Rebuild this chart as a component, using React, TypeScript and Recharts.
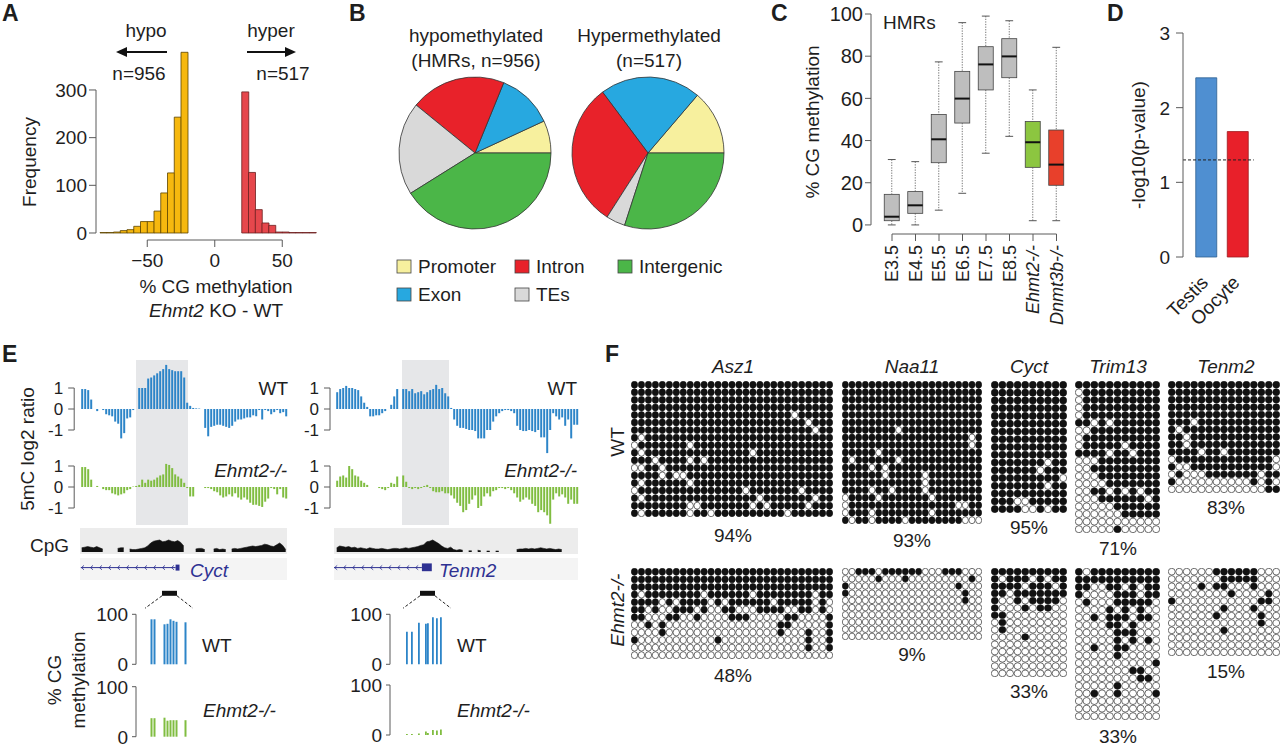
import React from 'react';
import {
  BarChart, Bar, XAxis, YAxis, Cell, PieChart, Pie, AreaChart, Area,
  ScatterChart, Scatter, ReferenceLine, ReferenceArea, ReferenceDot,
} from 'recharts';

const FONT = '"Liberation Sans", Arial, Helvetica, sans-serif';
const INK = '#1e1e1e';
const AXIS = '#5a5a5a';
const GENE_BLUE = '#2e3192';

// ---------- A: distribution of methylation differences (KO - WT) ----------
const histBinStarts = [-85, -80, -75, -70, -65, -60, -55, -50, -45, -40, -35, -30, -25, -20, -15, -10, -5, 0, 5, 10, 15, 20, 25, 30, 35, 40, 45, 50, 55, 60, 65, 70];
const hypoCounts = [1, 1, 2, 5, 7, 14, 24, 24, 46, 84, 126, 243, 379]; // bins -85 ... -25
const hyperCounts = [296, 127, 49, 21, 16, 2, 2, 1, 1, 1, 1]; // bins 20 ... 70
const histTickValues = [-50, 0, 50];
const HYPO_FILL = '#f6b80f';
const HYPER_FILL = '#e6474c';

// ---------- B: genomic context of differentially methylated regions ----------
const regionTypes = ['Promoter', 'Exon', 'Intron', 'TEs', 'Intergenic'];
const regionColors = ['#f7f09e', '#27a8e0', '#e8222a', '#d9d9d9', '#4bb648'];
const hypoRegionCounts = [66, 114, 194, 189, 393];
const hyperRegionCounts = [71, 111, 159, 21, 155];

// ---------- C: HMR methylation across development ----------
const stageNames = ['E3.5', 'E4.5', 'E5.5', 'E6.5', 'E7.5', 'E8.5', 'Ehmt2-/-', 'Dnmt3b-/-'];
const boxLow = [0, 0, 7, 15, 34, 42, 2, 2];
const boxQ1 = [2, 5.5, 29.5, 48.3, 64, 69.8, 27.3, 18.8];
const boxMedian = [3.9, 9.3, 40.6, 59.9, 76.1, 79.9, 39.2, 28.6];
const boxQ3 = [14.5, 15.8, 52.4, 72.8, 84.5, 88.3, 49, 45];
const boxHigh = [31, 30, 77.3, 95.9, 99, 96.8, 64, 84.2];
const boxFills = ['#bebebe', '#bebebe', '#bebebe', '#bebebe', '#bebebe', '#bebebe', '#8cc640', '#e8402b'];

// ---------- D: tissue enrichment ----------
const tissues = ['Testis', 'Oocyte'];
const tissueScores = [2.4, 1.68];
const tissueFills = ['#4f8fd1', '#e8202a'];
const tissueStrokes = ['#2d5f91', '#9e1b20'];
const pThreshold = 1.3;

// ---------- E: 5mC log2 ratio tracks ----------
const cyctWtRatio = [0.95, 0.95, 0.9, 0.45, null, -0.1, null, -0.05, -0.25, -0.3, -0.35, -0.6, -0.7, -1.4, -1.15, -0.45, -0.4, -0.05, null, 1.0, 1.0, 1.0, 1.45, 1.5, 1.6, 1.7, 1.8, 1.9, 2.1, 1.9, 1.85, 1.8, 1.8, 1.8, 1.5, 0.3, 0.15, 0.05, 0.03, 0.02, null, -0.9, -1.3, -0.85, -0.8, -0.75, -0.75, -0.8, -0.85, -0.9, -0.8, -0.6, -0.5, -0.5, -0.45, -0.4, -0.4, -0.3, -0.35, -0.05, -0.5, -0.05, -0.1, -0.25, -0.15, -0.05, -0.2, -0.15, -0.35];
const cyctKoRatio = [0.95, 0.95, 0.85, 0.35, null, 0.05, null, -0.1, -0.15, -0.15, -0.3, -0.35, -0.4, -0.35, -0.3, -0.15, -0.1, 0.02, 0.05, 0.1, 0.35, 0.2, 0.35, 0.3, 0.35, 0.45, 0.55, 0.6, 1.1, 1.05, 0.9, 0.6, 0.5, 0.4, 0.2, -0.05, -0.45, -0.45, null, null, null, -0.05, -0.05, -0.1, -0.2, -0.25, -0.4, -0.5, -0.45, -0.35, -0.45, -0.3, -0.5, -0.6, -0.5, -0.6, -0.75, -0.85, -0.85, -0.9, -0.95, -0.7, -0.55, -0.05, -0.1, -0.35, -0.1, -0.5, -0.55];
const tenm2WtRatio = [0.8, 0.95, 1.0, 1.1, 1.0, 1.0, 0.95, 0.9, 0.6, 0.3, 0.1, -0.35, -0.35, -0.3, -0.3, -0.2, -0.1, null, 0.2, 0.6, 0.95, null, 0.95, 0.95, 0.85, 0.95, 0.75, 0.8, 0.85, 0.7, 0.8, 0.9, 0.95, 1.15, 0.95, 1.0, 0.75, 0.6, 0.05, -0.5, -0.8, -0.9, -0.9, -0.95, -1.0, -1.0, -1.05, -1.4, -1.4, -1.4, -1.0, -1.0, -0.6, -0.35, -0.2, -0.1, -0.05, -0.05, -0.1, -0.2, -0.8, -1.0, -1.05, -1.05, -1.0, -1.05, -1.1, -1.0, -1.35, -1.35, -2.1, -1.0, -0.2, -0.35, -0.5, -0.4, -0.8, -0.5, -1.4, -0.75, -0.75];
const tenm2KoRatio = [0.3, 0.5, 0.55, 0.45, 1.0, 0.85, 0.55, 0.5, 0.3, 0.2, 0.1, null, null, null, -0.05, -0.1, -0.15, -0.05, 0.2, 0.15, 0.5, null, 0.55, 0.25, -0.05, -0.1, -0.05, -0.1, -0.05, 0.05, 0.1, -0.05, -0.2, -0.25, -0.25, -0.2, -0.3, -0.3, -0.4, -0.55, -0.75, -0.9, -1.2, -1.1, -0.8, -0.6, -0.4, -1.0, -0.9, -0.45, -0.3, -0.45, -0.2, -0.15, -0.05, -0.05, -0.1, -0.05, -0.15, -0.3, -0.5, -0.7, -0.6, -0.5, -0.6, -0.8, -0.9, -1.2, -1.1, -1.2, -1.35, -1.75, -0.6, -0.3, -0.45, -0.35, -0.5, -0.8, -0.6, -0.8, -0.8];
const cyctCpgDensity = [0.35, 0.4, 0.45, 0.4, 0.35, 0.45, 0.35, 0.25, null, null, null, null, 0.3, 0.35, 0.35, null, 0.25, 0.2, 0.2, 0.25, 0.3, 0.35, 0.5, 0.75, 0.9, 0.95, 1.0, 0.85, 0.9, 1.0, 0.9, 0.85, 0.95, 0.8, 0.5, null, null, null, 0.25, 0.3, 0.3, 0.2, null, null, 0.25, 0.3, 0.2, 0.25, 0.2, null, 0.25, 0.3, 0.25, 0.3, 0.35, 0.4, 0.45, 0.5, 0.45, 0.5, 0.55, 0.65, 0.6, 0.5, 0.45, 0.6, 0.75, 0.55, 0.2];
const tenm2CpgDensity = [0.35, 0.5, 0.45, 0.4, 0.45, 0.35, 0.4, 0.3, 0.35, 0.3, 0.25, 0.35, 0.3, 0.25, 0.25, 0.3, 0.25, 0.2, 0.25, 0.3, 0.3, 0.25, 0.3, 0.35, 0.3, 0.35, 0.4, 0.45, 0.55, 0.6, 0.85, 0.9, 1.0, 0.85, 0.7, 0.5, 0.35, 0.3, 0.4, 0.2, 0.15, 0.2, 0.15, null, 0.1, 0.1, null, 0.15, 0.1, null, 0.08, 0.08, null, 0.08, 0.08, null, null, 0.1, null, null, 0.2, 0.25, 0.25, 0.3, 0.25, 0.3, 0.25, 0.3, 0.35, 0.3, 0.25, 0.3, 0.25, 0.2, 0.25, 0.2, null, 0.1, null, null, 0.15];
const cyctGene = { txStart: -0.3, txEnd: 31.3, exonStart: 31.3, exonEnd: 32.6, exonLow: -1.55, exonHigh: -1.05 };
const tenm2Gene = { txStart: -0.9, txEnd: 28.4, exonStart: 28.4, exonEnd: 31.7, exonLow: -1.6, exonHigh: -0.95 };
const geneLineLevel = -1.3;

// CpG-resolution methylation (%) in the amplicon
const cyctCpgPos = [15, 18, 28, 31, 34, 37, 40, 49];
const cyctWtMeth = [90, 90, 80, 81, 90, 87, 85, 84];
const cyctKoMeth = [37, 37, 38, 32, 33, 33, 33, 33];
const tenm2CpgPos = [17, 22, 29, 36, 38, 43, 47, 51];
const tenm2WtMeth = [65, 65, 83, 81, 82, 94, 92, 94];
const tenm2KoMeth = [2, 2, 3, 7, 4, 10, 9, 11];
const cyctAmplicon = [26, 41];
const tenm2Amplicon = [30, 45];

// ---------- F: bisulfite clones (1 = methylated CpG) ----------
const asz1WT = [
  '11111111111111111111111111111',
  '11111111111111111111111111111',
  '11111111111111111111111111111',
  '11111111111111111111111111111',
  '11111111111111111111111011111',
  '11111111111111111111111110111',
  '11111111111111111111111111011',
  '10111111111111111111111111111',
  '01111111011111111111111111111',
  '10111111111111111011111111111',
  '11101111010111111111111111111',
  '00110111111111111111111111111',
  '11110100111111111111111111111',
  '10111111011111111111111111111',
  '01111111111111110111111101111',
  '10111111111111111101111111011',
  '11111111001111111010111110111',
  '10111111011011111111110111111',
];
const asz1KO = [
  '11111111111111111111111111111',
  '11111111111111111111111111111',
  '11111111111111111111111111111',
  '10111111110111111011111111011',
  '11110101111010111111011111010',
  '11010011101001100011110011010',
  '11000110010000111000001100001',
  '00101000000000000000011000001',
  '00001000000000000000010001001',
  '10000000000010000000000001001',
  '00000000000000000000000001001',
  '00000000000000000000000000000',
];
const naa11WT = [
  '111111111111111111111',
  '111111111111111111111',
  '111111111111111111111',
  '111111111111111111111',
  '111111111111111111111',
  '111111111111111111111',
  '111111110111111111111',
  '111111111111111111101',
  '111111111111111111101',
  '111110111111111111111',
  '101111110111111111111',
  '111101011111111111111',
  '111111011111011111111',
  '111111111111011111111',
  '111101101111011111111',
  '011110111111101111111',
  '011111111111111110011',
  '011101111111101111111',
  '101101111011111111000',
];
const naa11KO = [
  '001110111111000111000',
  '000001000100000000010',
  '100000000000000001000',
  '100000000000000000100',
  '000000000000000000100',
  '000000000000000000000',
  '000000000000000000000',
  '000000000000000000000',
  '000000000000000000000',
  '000000000000000000000',
];
const cyctWT = [
  '1111111111', '1111111111', '1111111111', '1111111111', '1111111111',
  '1111111111', '1111111111', '1111111111', '1111111111', '1111111111',
  '1111111011', '1111110111', '1111111110', '1111111011', '1111111111',
  '1110011111', '1111001011',
];
const cyctKO = [
  '1111111111', '1011101011', '1111011101', '1101111111', '1001011110',
  '1000101100', '1100000000', '0100000000', '0100000000', '0000100000',
  '0000000000', '0000000000', '0000000000', '0000000000', '0000000000',
];
const trim13WT = [
  '11111111111', '01111111111', '01111111111', '01111111111', '01111111111',
  '11010111111', '00111111111', '01111111111', '01111101111', '11110110111',
  '00011111111', '00111111111', '00011111111', '00001111111', '00110101011',
  '00011111101', '00000111111', '00000011111', '00000000000', '00000100000',
];
const trim13KO = [
  '10111111111', '11111111111', '11001101011', '10000111011', '01000111110',
  '00001010100', '00101110110', '00001101000', '00000111000', '00000101010',
  '00100110000', '00000100000', '00000000001', '00000001100', '00000000110',
  '00000100000', '00100100001', '00000000000', '00000000000', '00000000000',
];
const tenm2WT = [
  '111111111111111', '111111111111111', '111111111111111', '111111111111111', '111111111111111',
  '111011111111111', '101111111111111', '110111111111111', '110111111111111', '111101101111111',
  '011111111111110', '100111111111110', '010001111111011', '100000000001010', '000000000000011',
];
const tenm2KO = [
  '000000111111000', '000000011111000', '000010110001000', '000000001000010', '100000000000110',
  '000000010001000', '000000100000100', '000000000000100', '000000010000000', '000000000000000',
  '000000000000000', '000000000000000',
];
const bisulfiteGenes = ['Asz1', 'Naa11', 'Cyct', 'Trim13', 'Tenm2'];
const wtClones = [asz1WT, naa11WT, cyctWT, trim13WT, tenm2WT];
const koClones = [asz1KO, naa11KO, cyctKO, trim13KO, tenm2KO];
const wtPercent = ['94%', '93%', '95%', '71%', '83%'];
const koPercent = ['48%', '9%', '33%', '33%', '15%'];

// block geometry of each bisulfite panel
const blockX = [631, 842, 991, 1075, 1168];
const blockW = [202, 140, 76, 85, 112];
const wtBlockH = [136, 143, 132, 152, 112];
const koBlockH = [91, 72, 109, 152, 88];
const WT_TOP = 381;
const KO_TOP = 568;
const geneLabelX = [733, 912, 1029, 1118, 1226];
const wtPctY = [542, 547, 534, 555, 514];
const koPctY = [682, 661, 698, 743, 678];

// ---------- shared pieces ----------
type TickCfg = {
  side: 'left' | 'bottom';
  anchor?: number | string;
  span?: number;
  len?: number;
  gap?: number;
  size?: number;
  rotate?: number;
  shiftX?: number;
  offsetX?: number;
  only?: any[];
  italicIf?: (v: any) => boolean;
  fmt?: (v: any) => string;
};

function axisTick(cfg: TickCfg) {
  return (props: any) => {
    const { y, payload } = props;
    const x = props.x + (cfg.offsetX ?? 0);
    const v = payload?.value;
    if (cfg.only && !cfg.only.includes(v)) return <g />;
    const len = cfg.len ?? 7;
    const gap = cfg.gap ?? 3;
    const size = cfg.size ?? 19;
    const label = cfg.fmt ? cfg.fmt(v) : String(v);
    const italic = cfg.italicIf ? cfg.italicIf(v) : false;
    const txt = { fontSize: size, fill: INK, fontFamily: FONT, fontStyle: italic ? 'italic' : 'normal' } as any;
    if (cfg.side === 'left') {
      return (
        <g>
          {cfg.anchor === v && cfg.span ? <line x1={x} y1={y} x2={x} y2={y - cfg.span} stroke={AXIS} /> : null}
          {len > 0 ? <line x1={x - len} y1={y} x2={x} y2={y} stroke={AXIS} /> : null}
          <text x={x - len - gap} y={y} dy="0.36em" textAnchor="end" {...txt}>{label}</text>
        </g>
      );
    }
    const ty = y + len + gap;
    return (
      <g>
        {cfg.anchor === v && cfg.span ? <line x1={x} y1={y} x2={x + cfg.span} y2={y} stroke={AXIS} /> : null}
        {len > 0 ? <line x1={x} y1={y} x2={x} y2={y + len} stroke={AXIS} /> : null}
        {cfg.rotate ? (
          <text transform={`translate(${x + (cfg.shiftX ?? 0)},${ty}) rotate(${cfg.rotate})`} dy="0.36em" textAnchor="end" {...txt}>{label}</text>
        ) : (
          <text x={x} y={ty} dy="0.78em" textAnchor="middle" {...txt}>{label}</text>
        )}
      </g>
    );
  };
}

const At = ({ x, y, children }: any) => (
  <div style={{ position: 'absolute', left: x, top: y }}>{children}</div>
);

const T = ({ x, y, children, anchor = 'start', size = 19, italic = false, bold = false, fill = INK, rotate }: any) => (
  <text
    x={x}
    y={y}
    textAnchor={anchor}
    fontSize={size}
    fontStyle={italic ? 'italic' : 'normal'}
    fontWeight={bold ? 'bold' : 'normal'}
    fill={fill}
    fontFamily={FONT}
    dy={rotate ? '0.35em' : undefined}
    transform={rotate ? `rotate(${rotate} ${x} ${y})` : undefined}
  >
    {children}
  </text>
);

// ---------- A ----------
function Histogram() {
  const rows = histBinStarts.map((bin, k) => {
    const hyperIdx = k - (histBinStarts.length - hyperCounts.length);
    if (k < hypoCounts.length) return { bin, count: hypoCounts[k], side: 'hypo' };
    if (hyperIdx >= 0) return { bin, count: hyperCounts[hyperIdx], side: 'hyper' };
    return { bin, count: null, side: 'none' };
  });
  // bins are 5 units wide on a 6.75 px band: shift ticks to the left bin edge
  const halfBand = 216 / histBinStarts.length / 2;
  return (
    <At x={0} y={0}>
      <BarChart width={340} height={300} data={rows} margin={{ top: 42.3, right: 24, bottom: 30, left: 56 }} barCategoryGap={0}>
        <XAxis
          dataKey="bin" padding={{ left: 4, right: 0 }} height={30} axisLine={false} tickLine={false} tickSize={0} tickMargin={0} interval={0}
          tick={axisTick({
            side: 'bottom', anchor: -50, span: 135, len: 7, gap: 5, offsetX: -halfBand, only: histTickValues,
            fmt: (v) => (v < 0 ? '\u2212' + Math.abs(v) : String(v)),
          })}
        />
        <YAxis
          type="number" domain={[-14.7, 400]} ticks={[0, 100, 200, 300]} width={40}
          axisLine={false} tickLine={false} tickSize={0} tickMargin={0} interval={0}
          tick={axisTick({ side: 'left', anchor: 0, span: 143, len: 7, gap: 2 })}
        />
        <Bar dataKey="count" isAnimationActive={false} strokeWidth={0.8}>
          {rows.map((r, k) => (
            <Cell key={k} fill={r.side === 'hypo' ? HYPO_FILL : HYPER_FILL} stroke={r.side === 'hypo' ? '#5c4400' : '#6a1f1f'} />
          ))}
        </Bar>
      </BarChart>
    </At>
  );
}

// ---------- B ----------
function RegionPies() {
  const hypo = regionTypes.map((name, k) => ({ name, value: hypoRegionCounts[k] }));
  const hyper = regionTypes.map((name, k) => ({ name, value: hyperRegionCounts[k] }));
  return (
    <At x={340} y={0}>
      <PieChart width={400} height={330} margin={{ top: 0, right: 0, bottom: 0, left: 0 }}>
        <Pie data={hypo} dataKey="value" cx={135} cy={153} outerRadius={76} startAngle={0} endAngle={360} isAnimationActive={false} stroke="#333" strokeWidth={0.8}>
          {hypo.map((d, k) => <Cell key={k} fill={regionColors[k]} />)}
        </Pie>
        <Pie data={hyper} dataKey="value" cx={308} cy={153} outerRadius={76} startAngle={0} endAngle={360} isAnimationActive={false} stroke="#333" strokeWidth={0.8}>
          {hyper.map((d, k) => <Cell key={k} fill={regionColors[k]} />)}
        </Pie>
      </PieChart>
    </At>
  );
}

// ---------- C ----------
const BoxShape = (props: any) => {
  const { x, y, width, height, payload } = props;
  if (x == null || !payload) return null;
  const top = Math.min(y, y + height);
  const bottom = Math.max(y, y + height);
  const span = payload.high - payload.low;
  const py = (v: number) => top + ((payload.high - v) / span) * (bottom - top);
  const cx = x + width / 2;
  const cap = width * 0.26;
  return (
    <g>
      <line x1={cx} x2={cx} y1={py(payload.high)} y2={py(payload.q3)} stroke="#666" strokeWidth={0.9} strokeDasharray="1.3 1.3" />
      <line x1={cx} x2={cx} y1={py(payload.q1)} y2={py(payload.low)} stroke="#666" strokeWidth={0.9} strokeDasharray="1.3 1.3" />
      <line x1={cx - cap} x2={cx + cap} y1={py(payload.high)} y2={py(payload.high)} stroke="#555" />
      <line x1={cx - cap} x2={cx + cap} y1={py(payload.low)} y2={py(payload.low)} stroke="#555" />
      <rect x={x} y={py(payload.q3)} width={width} height={py(payload.q1) - py(payload.q3)} fill={payload.fill} stroke="#444" strokeWidth={0.8} />
      <line x1={x} x2={x + width} y1={py(payload.med)} y2={py(payload.med)} stroke="#111" strokeWidth={2} />
    </g>
  );
};

function StageBoxes() {
  const rows = stageNames.map((stage, k) => ({
    stage, range: [boxLow[k], boxHigh[k]], low: boxLow[k], q1: boxQ1[k], med: boxMedian[k], q3: boxQ3[k], high: boxHigh[k], fill: boxFills[k],
  }));
  return (
    <At x={740} y={0}>
      <BarChart width={340} height={330} data={rows} margin={{ top: 14, right: 11.75, bottom: 6, left: 91 }}>
        <XAxis
          dataKey="stage" padding={{ left: 9.25, right: 0 }} height={90} axisLine={false} tickLine={false} tickSize={0} tickMargin={0} interval={0}
          tick={axisTick({ side: 'bottom', anchor: 'E3.5', span: 164.5, len: 7, gap: 4, size: 18, rotate: -90, italicIf: (v) => String(v).includes('-/-') })}
        />
        <YAxis
          type="number" domain={[-4.3, 100]} ticks={[0, 20, 40, 60, 80, 100]} width={40}
          axisLine={false} tickLine={false} tickSize={0} tickMargin={0} interval={0}
          tick={axisTick({ side: 'left', anchor: 0, span: 210.9, len: 6, gap: 2, size: 20 })}
        />
        <Bar dataKey="range" barSize={15} shape={BoxShape} isAnimationActive={false} />
      </BarChart>
    </At>
  );
}

// ---------- D ----------
function EnrichmentBars() {
  const rows = tissues.map((tissue, k) => ({ tissue, score: tissueScores[k] }));
  return (
    <At x={1080} y={0}>
      <BarChart width={200} height={330} data={rows} margin={{ top: 33, right: 26.25, bottom: 13, left: 63 }}>
        <XAxis
          dataKey="tissue" padding={{ left: 7.75, right: 0 }} height={60} axisLine={false} tickLine={false} tickSize={0} tickMargin={0} interval={0}
          tick={axisTick({ side: 'bottom', len: 0, gap: 22, shiftX: -2, rotate: -45, size: 19 })}
        />
        <YAxis
          type="number" domain={[0, 3]} ticks={[0, 1, 2, 3]} width={40}
          axisLine={false} tickLine={false} tickSize={0} tickMargin={0} interval={0}
          tick={axisTick({ side: 'left', anchor: 0, span: 224, len: 7, gap: 6, size: 19 })}
        />
        <Bar dataKey="score" barSize={21} isAnimationActive={false} strokeWidth={0.8}>
          {rows.map((r, k) => <Cell key={k} fill={tissueFills[k]} stroke={tissueStrokes[k]} />)}
        </Bar>
        <ReferenceLine y={pThreshold} stroke="#222" strokeDasharray="3 2" strokeWidth={1} ifOverflow="visible" />
      </BarChart>
    </At>
  );
}

// ---------- E ----------
function RatioTrack({ values, color, x, y, mLeft, mRight, pad }: any) {
  const rows = values.map((v: number | null, i: number) => ({ i, v }));
  return (
    <At x={x} y={y}>
      <BarChart width={300} height={130} data={rows} margin={{ top: 22.8, right: mRight, bottom: 14.8, left: mLeft }} barCategoryGap={0}>
        <XAxis dataKey="i" hide padding={{ left: pad, right: 0 }} />
        <YAxis
          type="number" domain={[-2.2, 2.2]} ticks={[-1, 0, 1]} width={30}
          axisLine={false} tickLine={false} tickSize={0} tickMargin={0} interval={0}
          tick={axisTick({ side: 'left', anchor: -1, span: 42, len: 6, gap: 5, size: 17 })}
        />
        <Bar dataKey="v" barSize={2} fill={color} isAnimationActive={false} />
      </BarChart>
    </At>
  );
}

const chevron = (p: any) => (
  <path d={`M${p.cx + 2},${p.cy - 2.2} L${p.cx - 0.6},${p.cy} L${p.cx + 2},${p.cy + 2.2}`} fill="none" stroke={GENE_BLUE} strokeWidth={0.8} />
);

function CpgTrack({ density, gene, x, y, mLeft, mRight }: any) {
  const rows = density.map((v: number | null, i: number) => ({ i, v }));
  const marks: number[] = [];
  for (let p = gene.txStart + 0.4; p < gene.txEnd - 1; p += 3) marks.push(p);
  return (
    <At x={x} y={y}>
      <AreaChart width={300} height={100} data={rows} margin={{ top: 36, right: mRight, bottom: 20, left: mLeft }}>
        <XAxis dataKey="i" type="number" domain={[-0.5, density.length - 0.5]} hide />
        <YAxis type="number" domain={[-2.333, 1.333]} hide />
        <Area dataKey="v" type="linear" baseValue={0} fill="#111" fillOpacity={1} stroke="#111" strokeWidth={0.6} connectNulls={false} dot={false} activeDot={false} isAnimationActive={false} />
        <ReferenceLine segment={[{ x: gene.txStart, y: geneLineLevel }, { x: gene.txEnd, y: geneLineLevel }]} stroke={GENE_BLUE} strokeWidth={1} ifOverflow="visible" />
        <ReferenceArea x1={gene.exonStart} x2={gene.exonEnd} y1={gene.exonLow} y2={gene.exonHigh} fill={GENE_BLUE} fillOpacity={1} stroke="none" ifOverflow="visible" />
        {marks.map((m, k) => (
          <ReferenceDot key={k} x={m} y={geneLineLevel} r={2} shape={chevron} ifOverflow="visible" />
        ))}
      </AreaChart>
    </At>
  );
}

function CpgMethylation({ pos, values, color, x, y, mTop, mBottom, amplicon }: any) {
  const rows = pos.map((p: number, k: number) => ({ p, v: values[k] }));
  return (
    <At x={x} y={y}>
      <BarChart width={200} height={100} data={rows} margin={{ top: mTop, right: 74, bottom: mBottom, left: 16 }}>
        <XAxis dataKey="p" type="number" domain={[0, 70]} hide />
        <YAxis
          type="number" domain={[0, 100]} ticks={[0, 100]} width={40}
          axisLine={false} tickLine={false} tickSize={0} tickMargin={0} interval={0}
          tick={axisTick({ side: 'left', anchor: 0, span: 50, len: 4, gap: 4, size: 19 })}
        />
        <Bar dataKey="v" barSize={2} fill={color} isAnimationActive={false} />
        {amplicon ? (
          <ReferenceArea x1={amplicon[0]} x2={amplicon[1]} y1={137} y2={147} fill="#111" fillOpacity={1} stroke="none" ifOverflow="visible" />
        ) : null}
        {amplicon ? (
          <ReferenceLine segment={[{ x: amplicon[0], y: 137 }, { x: amplicon[0] - 17, y: 112 }]} stroke="#222" strokeDasharray="3 2" ifOverflow="visible" />
        ) : null}
        {amplicon ? (
          <ReferenceLine segment={[{ x: amplicon[1], y: 137 }, { x: amplicon[1] + 16, y: 112 }]} stroke="#222" strokeDasharray="3 2" ifOverflow="visible" />
        ) : null}
      </BarChart>
    </At>
  );
}

// ---------- F ----------
function DotMatrix({ rows, x, y, w, h }: any) {
  const nR = rows.length;
  const nC = rows[0].length;
  const cells = rows.flatMap((row: string, r: number) => row.split('').map((ch, c) => ({ c, r, m: ch === '1' })));
  const rx = w / nC / 2 - 0.3;
  const ry = h / nR / 2 - 0.3;
  return (
    <At x={x} y={y}>
      <ScatterChart width={w} height={h} margin={{ top: 0, right: 0, bottom: 0, left: 0 }}>
        <XAxis type="number" dataKey="c" domain={[-0.5, nC - 0.5]} hide />
        <YAxis type="number" dataKey="r" domain={[-0.5, nR - 0.5]} reversed hide />
        <Scatter
          data={cells}
          isAnimationActive={false}
          shape={(p: any) => (
            <ellipse cx={p.cx} cy={p.cy} rx={rx} ry={ry} fill={p.payload.m ? '#111' : '#fff'} stroke="#111" strokeWidth={0.6} />
          )}
        />
      </ScatterChart>
    </At>
  );
}

function Backdrop() {
  return (
    <svg width={1280} height={748} style={{ position: 'absolute', left: 0, top: 0 }}>
      <rect x={136} y={360} width={52} height={165} fill="#e6e7e9" />
      <rect x={402} y={360} width={47} height={165} fill="#e6e7e9" />
      <rect x={80} y={528} width={207} height={26} fill="#ececec" />
      <rect x={334} y={528} width={244} height={26} fill="#ececec" />
      <rect x={80} y={558} width={207} height={22} fill="#f4f4f4" />
      <rect x={334} y={558} width={244} height={22} fill="#f4f4f4" />
    </svg>
  );
}

function Annotations() {
  const legendRows = [
    { k: 0, x: 397, y: 260 }, { k: 2, x: 515, y: 260 }, { k: 4, x: 618, y: 260 },
    { k: 1, x: 397, y: 288 }, { k: 3, x: 515, y: 288 },
  ];
  return (
    <svg width={1280} height={748} style={{ position: 'absolute', left: 0, top: 0, pointerEvents: 'none' }}>
      {/* panel letters */}
      <T x={2} y={21} size={23} bold>A</T>
      <T x={349} y={21} size={23} bold>B</T>
      <T x={771} y={21} size={23} bold>C</T>
      <T x={1107} y={21} size={23} bold>D</T>
      <T x={2} y={362} size={23} bold>E</T>
      <T x={605} y={362} size={23} bold>F</T>

      {/* A */}
      <T x={146} y={37} anchor="middle">hypo</T>
      <line x1={167} y1={52} x2={124} y2={52} stroke="#111" strokeWidth={2} />
      <polygon points="116,52 127,47 127,57" fill="#111" />
      <T x={139} y={80} anchor="middle">n=956</T>
      <T x={271} y={37} anchor="middle">hyper</T>
      <line x1={247} y1={52} x2={288} y2={52} stroke="#111" strokeWidth={2} />
      <polygon points="296,52 285,47 285,57" fill="#111" />
      <T x={283} y={80} anchor="middle">n=517</T>
      <T x={29} y={162} anchor="middle" rotate={-90}>Frequency</T>
      <T x={216} y={293} anchor="middle">% CG methylation</T>
      <text x={216} y={317} textAnchor="middle" fontSize={19} fill={INK} fontFamily={FONT}>
        <tspan fontStyle="italic">Ehmt2</tspan> KO - WT
      </text>

      {/* B */}
      <T x={476} y={42} anchor="middle">hypomethylated</T>
      <T x={476} y={67} anchor="middle">(HMRs, n=956)</T>
      <T x={649} y={42} anchor="middle">Hypermethylated</T>
      <T x={649} y={67} anchor="middle">(n=517)</T>
      {legendRows.map(({ k, x, y }) => (
        <g key={k}>
          <rect x={x} y={y} width={14} height={13} fill={regionColors[k]} stroke="#444" strokeWidth={0.8} />
          <T x={x + 21} y={y + 13}>{regionTypes[k]}</T>
        </g>
      ))}

      {/* C */}
      <T x={883} y={29}>HMRs</T>
      <T x={812} y={122} anchor="middle" rotate={-90}>% CG methylation</T>

      {/* D */}
      <T x={1138} y={145} anchor="middle" rotate={-90}>-log10(p-value)</T>

      {/* E */}
      <T x={27} y={449} anchor="middle" rotate={-90}>5mC log2 ratio</T>
      <T x={288} y={395} anchor="end">WT</T>
      <T x={287} y={477} anchor="end" italic>Ehmt2-/-</T>
      <T x={577} y={395} anchor="end">WT</T>
      <T x={577} y={477} anchor="end" italic>Ehmt2-/-</T>
      <T x={30} y={552}>CpG</T>
      <T x={190} y={577} italic fill={GENE_BLUE}>Cyct</T>
      <T x={439} y={577} italic fill={GENE_BLUE}>Tenm2</T>
      <T x={202} y={652}>WT</T>
      <T x={203} y={717} italic>Ehmt2-/-</T>
      <T x={457} y={652}>WT</T>
      <T x={457} y={717} italic>Ehmt2-/-</T>
      <T x={54} y={680} anchor="middle" rotate={-90}>% CG</T>
      <T x={78} y={680} anchor="middle" rotate={-90}>methylation</T>

      {/* F */}
      {bisulfiteGenes.map((g, k) => (
        <g key={g}>
          <T x={geneLabelX[k]} y={373} anchor="middle" italic>{g}</T>
          <T x={geneLabelX[k]} y={wtPctY[k]} anchor="middle">{wtPercent[k]}</T>
          <T x={geneLabelX[k]} y={koPctY[k]} anchor="middle">{koPercent[k]}</T>
        </g>
      ))}
      <T x={617} y={442} anchor="middle" rotate={-90}>WT</T>
      <T x={617} y={610} anchor="middle" rotate={-90} italic>Ehmt2-/-</T>
    </svg>
  );
}

export default function App() {
  return (
    <div style={{ position: 'absolute', left: 0, top: 0, width: 1280, height: 748, background: '#fff', overflow: 'hidden', fontFamily: FONT }}>
      <Backdrop />
      <Histogram />
      <RegionPies />
      <StageBoxes />
      <EnrichmentBars />

      <RatioTrack values={cyctWtRatio} color="#2d85c8" x={0} y={340} mLeft={44.2} mRight={12.8} pad={6} />
      <RatioTrack values={cyctKoRatio} color="#80bd41" x={0} y={418} mLeft={44.2} mRight={12.8} pad={6} />
      <RatioTrack values={tenm2WtRatio} color="#2d85c8" x={290} y={340} mLeft={10} mRight={11.8} pad={5.2} />
      <RatioTrack values={tenm2KoRatio} color="#80bd41" x={290} y={418} mLeft={10} mRight={11.8} pad={5.2} />
      <CpgTrack density={cyctCpgDensity} gene={cyctGene} x={0} y={500} mLeft={80.2} mRight={12.8} />
      <CpgTrack density={tenm2CpgDensity} gene={tenm2Gene} x={290} y={500} mLeft={45.2} mRight={11.8} />
      <CpgMethylation pos={cyctCpgPos} values={cyctWtMeth} color="#2d85c8" x={80} y={580} mTop={34.3} mBottom={15.7} amplicon={cyctAmplicon} />
      <CpgMethylation pos={cyctCpgPos} values={cyctKoMeth} color="#80bd41" x={80} y={652} mTop={34.7} mBottom={15.3} />
      <CpgMethylation pos={tenm2CpgPos} values={tenm2WtMeth} color="#2d85c8" x={334} y={580} mTop={34.3} mBottom={15.7} amplicon={tenm2Amplicon} />
      <CpgMethylation pos={tenm2CpgPos} values={tenm2KoMeth} color="#80bd41" x={334} y={652} mTop={33} mBottom={17} />

      {bisulfiteGenes.map((g, k) => (
        <React.Fragment key={g}>
          <DotMatrix rows={wtClones[k]} x={blockX[k]} y={WT_TOP} w={blockW[k]} h={wtBlockH[k]} />
          <DotMatrix rows={koClones[k]} x={blockX[k]} y={KO_TOP} w={blockW[k]} h={koBlockH[k]} />
        </React.Fragment>
      ))}

      <Annotations />
    </div>
  );
}
